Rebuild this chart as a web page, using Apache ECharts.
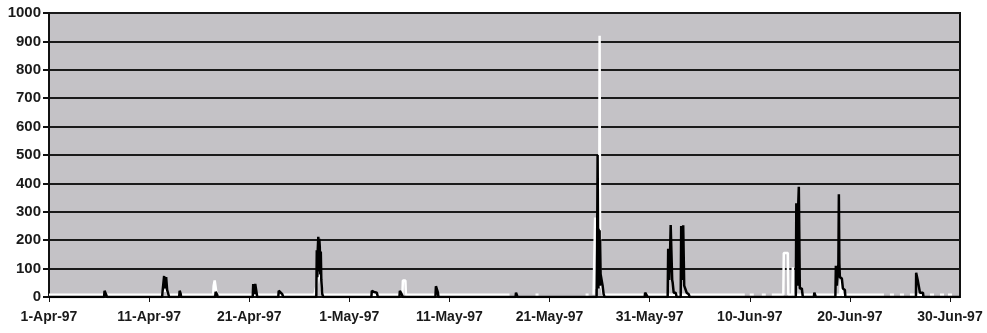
<!DOCTYPE html>
<html>
<head>
<meta charset="utf-8">
<script src="https://cdn.jsdelivr.net/npm/echarts@6/dist/echarts.min.js"></script>
<style>
  html, body { margin: 0; padding: 0; background: #fff; }
  #chart { width: 987px; height: 333px; }
</style>
</head>
<body>
<div id="chart"></div>
<script>
// x = days since 1-Apr-97 (hourly readings), y = value; '-' breaks the line
const months = ['Jan', 'Feb', 'Mar', 'Apr', 'May', 'Jun', 'Jul']
const yTicks = [0, 100, 200, 300, 400, 500, 600, 700, 800, 900, 1000]

const whitePts = [
  [0, 8],
  [11.3, 8], [11.4, 22], [11.8, 22], [11.9, 8],
  [16.4, 8], [16.45, 40], [16.55, 58], [16.7, 58], [16.75, 8],
  [26.5, 8], [26.6, 20], [26.75, 45], [26.85, 72], [27.1, 72], [27.25, 30], [27.4, 8],
  [35.3, 8], [35.35, 58], [35.6, 58], [35.65, 8],
  [46.0, 8], [46.0, '-'],
  [48.6, 8], [48.9, 8], [48.9, '-'],
  [53.6, 8], [53.9, 8], [53.9, '-'],
  [54.4, 8], [54.5, 10], [54.55, 280], [54.6, 30], [54.95, 40], [55.0, 920], [55.05, 40],
  [55.15, 45], [55.25, 30], [55.35, 8],
  [69.5, 8], [69.5, '-'],
  [70.0, 8], [70.4, 8], [70.4, '-'],
  [71.2, 8], [71.6, 8], [71.6, '-'],
  [72.2, 8], [73.35, 8], [73.4, 155], [73.8, 155], [73.85, 8],
  [74.25, 8], [74.3, 105], [74.35, 8],
  [79.05, 8], [79.1, 60], [79.2, 8],
  [83.4, 8], [83.4, '-'],
  [84.0, 8], [84.4, 8], [84.4, '-'],
  [85.0, 8], [85.4, 8], [85.4, '-'],
  [86.0, 8], [87.4, 8], [87.4, '-'],
  [88.0, 8], [88.4, 8], [88.4, '-'],
  [89.0, 8], [89.4, 8], [89.4, '-'],
  [89.8, 8], [90.2, 8]
]

const blackPts = [
  [0, 0],
  [5.5, 0], [5.55, 22], [5.7, 15], [5.8, 0],
  [11.3, 0], [11.35, 22], [11.45, 22], [11.5, 74], [11.6, 30], [11.7, 70], [11.8, 25], [11.95, 22], [12.0, 0],
  [13.0, 0], [13.05, 22], [13.15, 12], [13.2, 0],
  [16.6, 0], [16.65, 18], [16.8, 8], [16.85, 0],
  [20.35, 0], [20.4, 46], [20.5, 10], [20.6, 46], [20.75, 46], [20.8, 0],
  [22.9, 0], [22.95, 22], [23.05, 25], [23.3, 10], [23.4, 0],
  [26.7, 0], [26.75, 165], [26.8, 70], [26.85, 170], [26.9, 212], [26.95, 90], [27.0, 205],
  [27.05, 175], [27.1, 80], [27.15, 160], [27.2, 60], [27.3, 10], [27.4, 0],
  [32.2, 0], [32.25, 22], [32.45, 18], [32.55, 24], [32.75, 15], [32.85, 0],
  [35.0, 0], [35.05, 22], [35.2, 12], [35.35, 0],
  [38.6, 0], [38.65, 38], [38.75, 35], [38.85, 15], [38.9, 0],
  [46.6, 0], [46.65, 15], [46.75, 10], [46.8, 0],
  [54.7, 0], [54.75, 170], [54.8, 500], [54.85, 170], [54.88, 30], [54.9, 240], [54.95, 40],
  [55.0, 235], [55.03, 40], [55.05, 200], [55.1, 80], [55.2, 60], [55.3, 40], [55.4, 10], [55.5, 0],
  [59.5, 0], [59.55, 15], [59.7, 10], [59.8, 0],
  [61.8, 0], [61.85, 170], [61.95, 60], [62.05, 175], [62.1, 253], [62.2, 253], [62.25, 60], [62.3, 50],
  [62.4, 15], [62.6, 15], [62.7, 0],
  [63.1, 0], [63.15, 250], [63.25, 60], [63.35, 253], [63.45, 40], [63.6, 35], [63.7, 15], [63.9, 10], [64.0, 0],
  [74.6, 0], [74.65, 330], [74.75, 40], [74.85, 335], [74.9, 388], [74.95, 388], [75.0, 30], [75.2, 30], [75.3, 0],
  [76.4, 0], [76.45, 15], [76.55, 15], [76.6, 0],
  [78.55, 0], [78.6, 110], [78.7, 40], [78.85, 115], [78.9, 362], [78.95, 120], [79.0, 70], [79.2, 65],
  [79.3, 30], [79.5, 25], [79.55, 0],
  [86.6, 0], [86.62, 85], [86.75, 80], [86.8, 55], [86.95, 50], [87.0, 15], [87.3, 15], [87.35, 0],
  [91, 0]
]

const fmtDay = v => {
  if (v % 10 !== 0) return ''
  const d = new Date(1997, 3, 1 + v)
  return d.getDate() + '-' + months[d.getMonth()] + '-97'
}

const chart = echarts.init(document.getElementById('chart'))
const txt = { color: '#1a1a1a', fontWeight: 'bold', fontFamily: 'Liberation Sans, Arial, sans-serif' }

chart.setOption({
  animation: false,
  grid: {
    left: 49, right: 27, top: 13, bottom: 36,
    show: true,
    backgroundColor: '#c4c2c6',
    borderColor: '#111',
    borderWidth: 2
  },
  xAxis: {
    type: 'value',
    min: 0,
    max: 91,
    interval: 10,
    axisLine: { lineStyle: { color: '#111', width: 2 } },
    axisTick: { length: 5, lineStyle: { color: '#111', width: 1 } },
    axisLabel: { ...txt, fontSize: 14, margin: 13, formatter: fmtDay, showMaxLabel: false },
    splitLine: { show: false }
  },
  yAxis: {
    type: 'value',
    min: yTicks[0],
    max: yTicks[yTicks.length - 1],
    interval: 100,
    axisLine: { show: true, lineStyle: { color: '#111', width: 2 } },
    axisTick: { show: true, length: 6, lineStyle: { color: '#111', width: 2 } },
    axisLabel: { ...txt, fontSize: 15, margin: 8, formatter: v => String(v) },
    splitLine: { lineStyle: { color: '#1a1a1a', width: 2 } }
  },
  series: [
    {
      name: 'white',
      type: 'line',
      data: whitePts,
      showSymbol: false,
      symbol: 'none',
      lineStyle: { color: '#ffffff', width: 2.5 },
      z: 3
    },
    {
      name: 'black',
      type: 'line',
      data: blackPts,
      showSymbol: false,
      symbol: 'none',
      lineStyle: { color: '#000000', width: 2.5 },
      z: 4
    }
  ]
})
</script>
</body>
</html>
